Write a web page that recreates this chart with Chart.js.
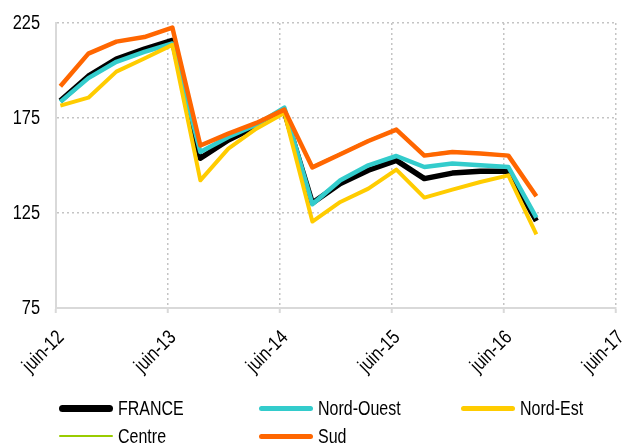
<!DOCTYPE html>
<html>
<head>
<meta charset="utf-8">
<script src="https://cdn.jsdelivr.net/npm/chart.js@4.4.1/dist/chart.umd.min.js"></script>
<style>
  html, body { margin: 0; padding: 0; background: #ffffff; }
  #wrap { position: relative; width: 624px; height: 444px; overflow: hidden; }
  #chart { position: absolute; left: 0; top: 0; }
  .leg { position: absolute; height: 22px; display: flex; align-items: center;
         font-family: 'Liberation Sans', Arial, sans-serif;
         font-size: 20px; color: #000; white-space: nowrap; }
  .leg .ln { width: 54px; margin-right: 5px; flex: none; }
  .leg .tx { display: inline-block; transform: scaleX(0.8); transform-origin: 0 50%; }
</style>
</head>
<body>
<div id="wrap">
  <canvas id="chart" width="624" height="444"></canvas>
</div>
<script>
// ---- data ----
const dates = ['2012-06-15','2012-09-15','2012-12-15','2013-03-15','2013-06-15','2013-09-15',
               '2013-12-15','2014-03-15','2014-06-15','2014-09-15','2014-12-15','2015-03-15',
               '2015-06-15','2015-09-15','2015-12-15','2016-03-15','2016-06-15','2016-09-15'];
const tickLabels = ['juin-12','juin-13','juin-14','juin-15','juin-16','juin-17'];
const seriesNames = ['FRANCE','Nord-Ouest','Nord-Est','Centre','Sud'];
const france    = [184.0, 197.0, 206.0, 211.3, 215.8, 153.8, 163.4, 170.6, 178.5, 130.3, 140.5, 147.5, 152.7, 143.1, 146.0, 147.0, 147.0, 120.8];
const nordOuest = [183.5, 196.0, 204.6, 209.8, 214.2, 157.1, 165.0, 171.5, 180.5, 129.6, 142.2, 150.1, 155.0, 149.2, 151.0, 150.1, 149.2, 122.6];
const nordEst   = [181.5, 185.7, 199.4, 206.3, 213.5, 142.2, 158.9, 169.4, 177.6, 120.5, 130.8, 137.8, 147.8, 133.1, 137.3, 141.3, 144.8, 113.8];
const centre    = [191.9, 209.2, 215.4, 217.8, 222.8, 160.8, 167.0, 172.6, 179.6, 149.5, 156.4, 163.3, 169.1, 155.7, 157.5, 156.6, 155.5, 134.0];
const sud       = [191.7, 208.9, 215.2, 217.6, 222.6, 160.5, 166.8, 172.4, 179.4, 149.0, 155.9, 162.9, 168.9, 155.2, 157.1, 156.3, 155.2, 133.8];

// ---- styling ----
const colors = ['#000000', '#33CCCC', '#FFCC00', '#99CC00', '#FF6600'];
const widths = [5.5, 4.5, 4, 2, 4.5];
const legendWidths = [7, 5, 5, 2.5, 5];
const drawOrder = [4, 3, 2, 1, 0]; // lower = drawn on top
const FONT = "'Liberation Sans', Arial, sans-serif";
const NARROW = 0.82; // horizontal squeeze to mimic a narrow font

function monthsFromStart(s) {
  const [y, m, d] = s.split('-').map(Number);
  return (y - 2012) * 12 + (m - 6) + (d - 1) / 30;
}
const xs = dates.map(monthsFromStart);
const values = [france, nordOuest, nordEst, centre, sud];

const datasets = seriesNames.map((name, i) => ({
  label: name,
  data: values[i].map((v, k) => ({ x: xs[k], y: v })),
  borderColor: colors[i],
  backgroundColor: colors[i],
  borderWidth: widths[i],
  pointRadius: 0,
  pointHoverRadius: 0,
  tension: 0,
  fill: false,
  borderJoinStyle: 'round',
  order: drawOrder[i]
}));

// squeeze tick label text horizontally (narrow-font look) while axes are drawn
const narrowText = {
  id: 'narrowText',
  beforeDraw(chart) {
    const ctx = chart.ctx;
    const orig = ctx.fillText;
    chart.$origFill = orig;
    ctx.fillText = function (text, x, y, maxWidth) {
      this.save();
      this.translate(x, y);
      this.scale(NARROW, 1);
      if (maxWidth === undefined) orig.call(this, text, 0, 0);
      else orig.call(this, text, 0, 0, maxWidth / NARROW);
      this.restore();
    };
  },
  beforeDatasetsDraw(chart) {
    if (chart.$origFill) { delete chart.ctx.fillText; }
  }
};

new Chart(document.getElementById('chart'), {
  type: 'line',
  data: { datasets },
  plugins: [narrowText],
  options: {
    responsive: false,
    animation: false,
    events: [],
    layout: { padding: { top: 23, right: 8, left: 0, bottom: 0 } },
    plugins: { legend: { display: false }, tooltip: { enabled: false } },
    scales: {
      x: {
        type: 'linear',
        min: 0, max: 60,
        afterFit: (s) => { s.height = 136; s.paddingLeft = 0; s.paddingRight = 0; },
        afterBuildTicks: (s) => { s.ticks = tickLabels.map((_, i) => ({ value: i * 12 })); },
        ticks: {
          autoSkip: false,
          maxRotation: 45, minRotation: 45,
          padding: 13,
          labelOffset: 5,
          color: '#000',
          font: { family: FONT, size: 20 },
          callback: (v) => tickLabels[Math.round(v / 12)]
        },
        grid: { color: '#c4c4c4', lineWidth: 1.5, drawTicks: true, tickLength: 5, tickColor: '#d9d9d9', tickWidth: 2 },
        border: { display: true, color: '#d9d9d9', width: 2, dash: [2, 3] }
      },
      y: {
        min: 75, max: 225,
        afterFit: (s) => { s.width = 56; s.paddingTop = 0; s.paddingBottom = 0; },
        ticks: {
          stepSize: 50,
          padding: 16,
          color: '#000',
          font: { family: FONT, size: 20 }
        },
        grid: { color: '#c4c4c4', lineWidth: 1.5, drawTicks: false },
        border: { display: true, color: '#d9d9d9', width: 2, dash: [2, 3] }
      }
    }
  }
});

// ---- legend (HTML, built from the series arrays) ----
const legendPos = [[59, 397], [259, 397], [461, 397], [59, 425], [259, 425]];
const wrap = document.getElementById('wrap');
seriesNames.forEach((name, i) => {
  const item = document.createElement('div');
  item.className = 'leg';
  item.style.left = legendPos[i][0] + 'px';
  item.style.top = legendPos[i][1] + 'px';
  const ln = document.createElement('span');
  ln.className = 'ln';
  ln.style.height = legendWidths[i] + 'px';
  ln.style.background = colors[i];
  ln.style.borderRadius = legendWidths[i] + 'px';
  const tx = document.createElement('span');
  tx.className = 'tx';
  tx.textContent = name;
  item.appendChild(ln);
  item.appendChild(tx);
  wrap.appendChild(item);
});
</script>
</body>
</html>
